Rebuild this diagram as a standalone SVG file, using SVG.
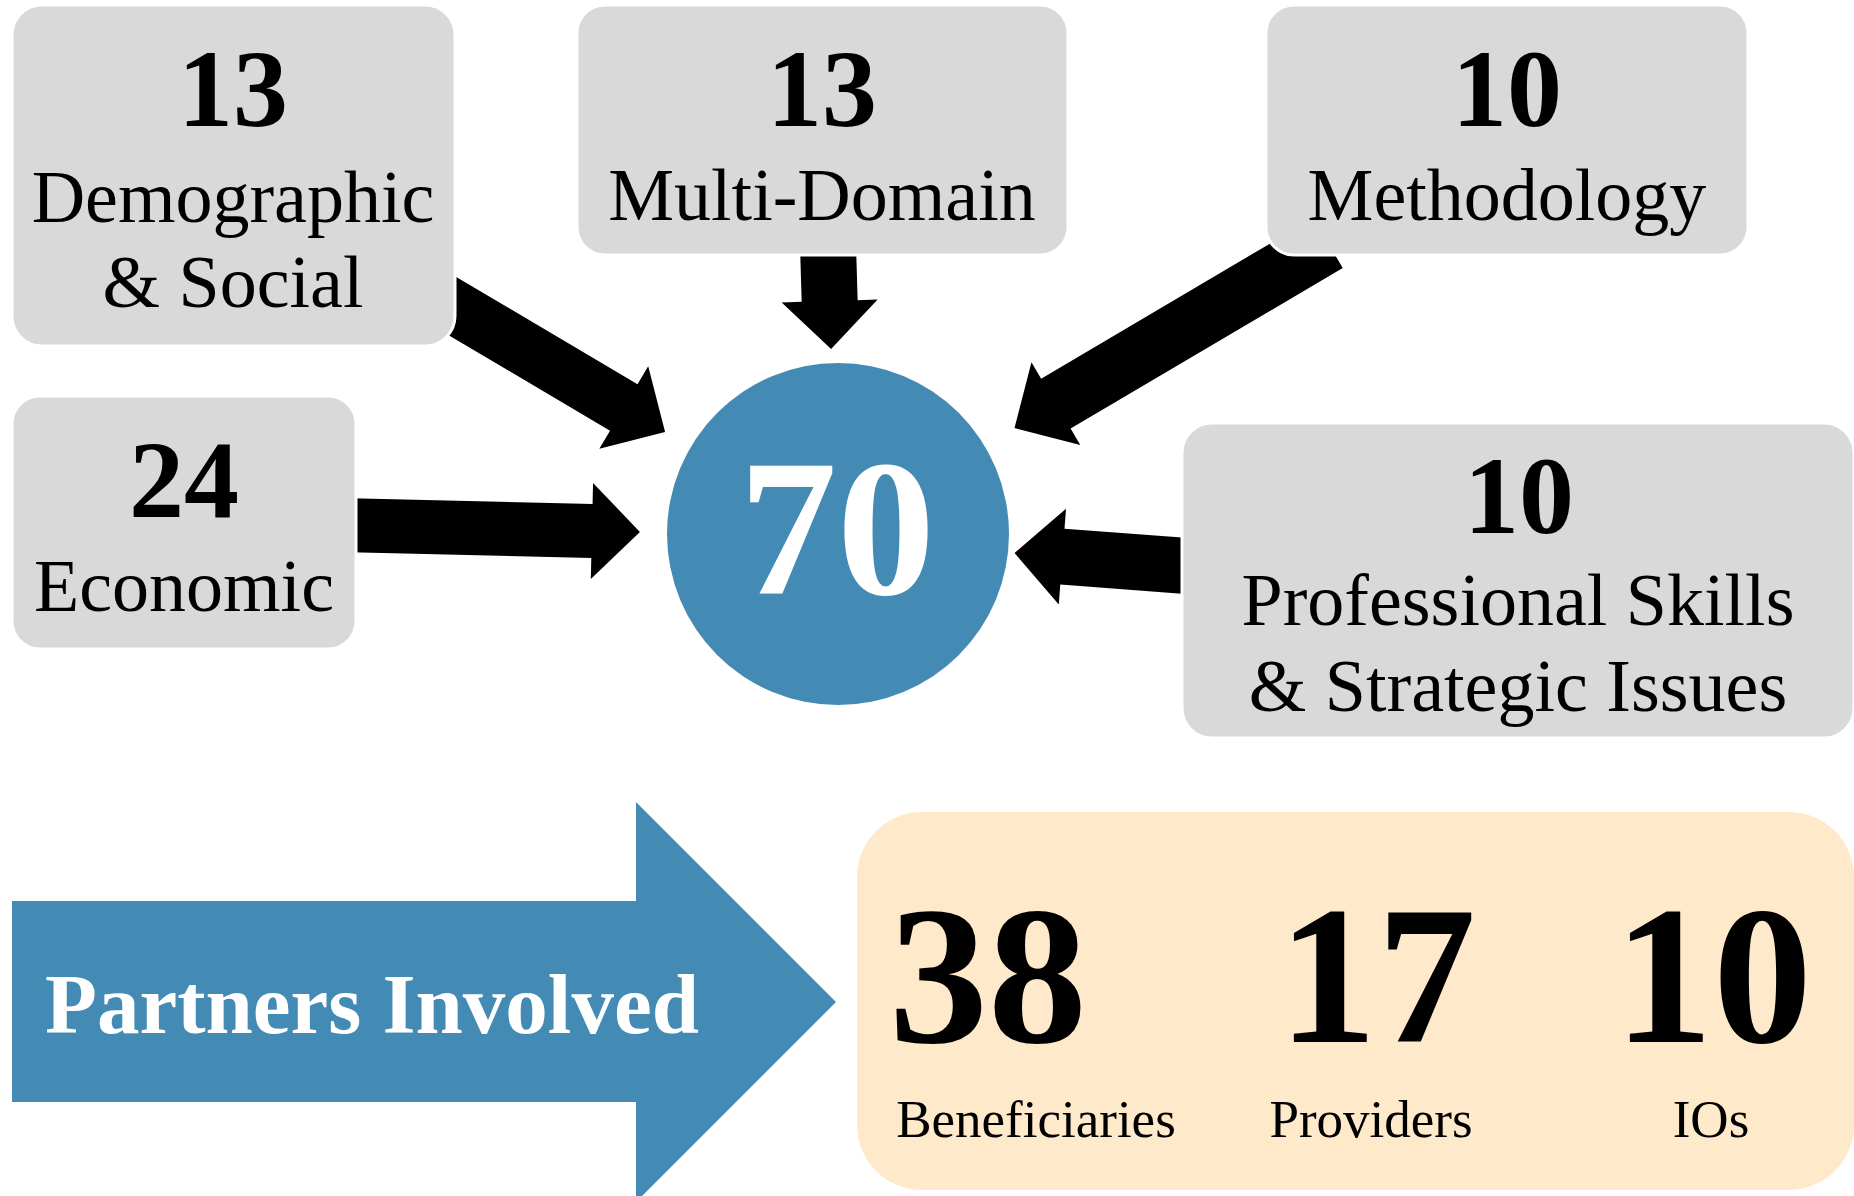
<svg xmlns="http://www.w3.org/2000/svg" width="1854" height="1196" viewBox="0 0 1854 1196">
<style>
.box{fill:#D9D9D9;stroke:#FFFFFF;stroke-width:3}
.arr{fill:#000000}
.num{font-family:"Liberation Serif","Times New Roman",serif;font-weight:bold;font-size:110px;fill:#000;text-anchor:middle}
.lbl{font-family:"Liberation Serif","Times New Roman",serif;font-size:74px;fill:#000;text-anchor:middle}
.big{font-family:"Liberation Serif","Times New Roman",serif;font-weight:bold;font-size:198px;fill:#000;text-anchor:middle}
.sm{font-family:"Liberation Serif","Times New Roman",serif;font-size:53px;fill:#000;text-anchor:middle}
</style>
<rect width="1854" height="1196" fill="#FFFFFF"/>
<g id="connectors">
<polygon class="arr" points="0,-27 217,-27 217,-48 265,0 217,48 217,27 0,27" transform="translate(437,297) rotate(30.6)"/>
<polygon class="arr" points="0,-28 56,-28 56,-48 104,0 56,48 56,28 0,28" transform="translate(828,245) rotate(88.3)"/>
<polygon class="arr" points="0,-29 316,-29 316,-48 364,0 316,48 316,29 0,29" transform="translate(1328,243) rotate(149.45)"/>
<polygon class="arr" points="0,-27 252,-27 252,-48 300,0 252,48 252,27 0,27" transform="translate(340,525) rotate(1.34)"/>
<polygon class="arr" points="0,-28 138,-28 138,-48 186,0 138,48 138,28 0,28" transform="translate(1200,567) rotate(184.3)"/>
</g>
<g id="demographic">
<rect class="box" x="12" y="5" width="443" height="341" rx="30"/>
<text class="num" x="233" y="126">13</text>
<text class="lbl" x="233" y="222">Demographic</text>
<text class="lbl" x="233" y="307">&amp; Social</text>
</g>
<g id="multidomain">
<rect class="box" x="577" y="5" width="491" height="250" rx="28"/>
<text class="num" x="822" y="126">13</text>
<text class="lbl" x="822" y="220">Multi-Domain</text>
</g>
<g id="methodology">
<rect class="box" x="1266" y="5" width="482" height="250" rx="28"/>
<text class="num" x="1507" y="126">10</text>
<text class="lbl" x="1507" y="220">Methodology</text>
</g>
<g id="economic">
<rect class="box" x="12" y="396" width="344" height="253" rx="28"/>
<text class="num" x="184" y="517">24</text>
<text class="lbl" x="184" y="611">Economic</text>
</g>
<g id="professional">
<rect class="box" x="1182" y="423" width="672" height="315" rx="30"/>
<text class="num" x="1519" y="533">10</text>
<text class="lbl" x="1518" y="625">Professional Skills</text>
<text class="lbl" x="1518" y="711">&amp; Strategic Issues</text>
</g>
<g id="total">
<circle cx="838" cy="534" r="171" fill="#438AB5"/>
<text x="837" y="594" font-family="Liberation Serif, Times New Roman, serif" font-weight="bold" font-size="196" fill="#FFFFFF" text-anchor="middle">70</text>
</g>
<g id="partners-arrow">
<polygon points="12,901 636,901 636,802 836,1002 636,1202 636,1102 12,1102" fill="#438AB5"/>
<text x="45" y="1033" font-family="Liberation Serif, Times New Roman, serif" font-weight="bold" font-size="85" fill="#FFFFFF">Partners Involved</text>
</g>
<g id="partners">
<rect x="857" y="812" width="997" height="378" rx="65" fill="#FEE9CB"/>
<text class="big" x="988" y="1042">38</text>
<text class="big" x="1377" y="1042">17</text>
<text class="big" x="1713" y="1042">10</text>
<text class="sm" x="1036" y="1137">Beneficiaries</text>
<text class="sm" x="1371" y="1137">Providers</text>
<text class="sm" x="1711" y="1137">IOs</text>
</g>
</svg>
